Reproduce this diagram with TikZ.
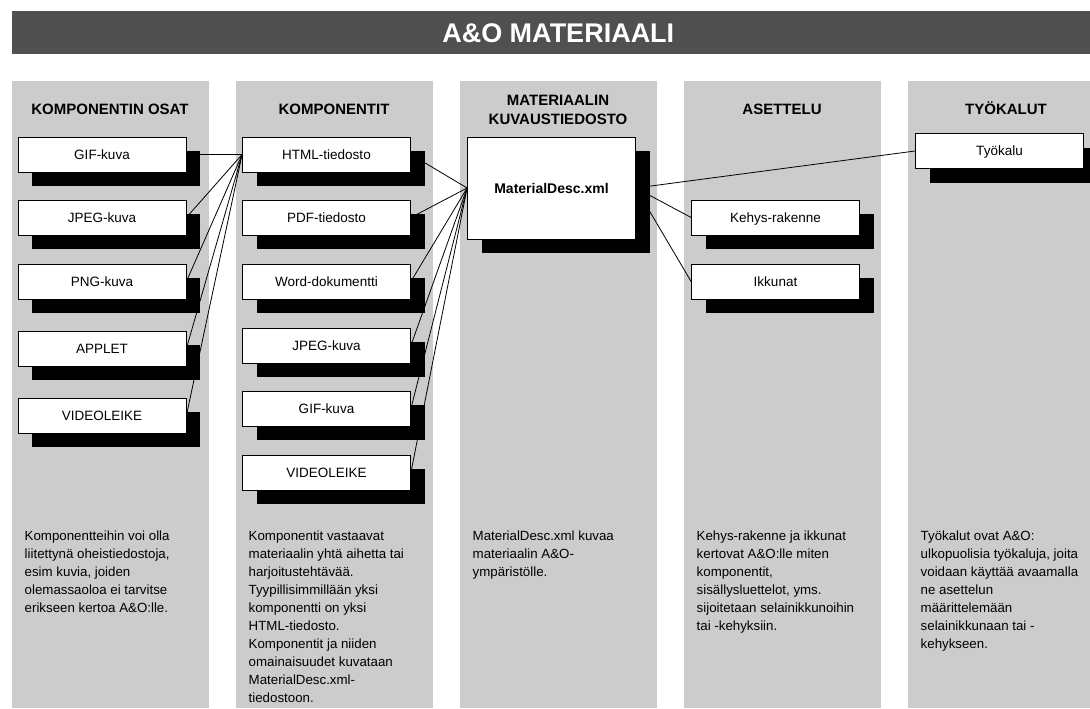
\documentclass[tikz,border=0pt]{standalone}
\usepackage{fontspec}
\setmainfont{Liberation Sans}
\usetikzlibrary{shadows,positioning}

\definecolor{bargray}{HTML}{505050}
\definecolor{colgray}{HTML}{CCCCCC}

\begin{document}
\begin{tikzpicture}[
    x=1pt, y=-1pt,
    column/.style={rectangle, fill=colgray, anchor=north west, inner sep=0pt, minimum width=197pt, minimum height=627pt},
    header/.style={align=center, font=\fontsize{15}{19}\selectfont\bfseries},
    part/.style={rectangle, draw, fill=white, line width=0.8pt, minimum width=168pt, minimum height=35pt, inner sep=0pt,
        text height=9.7pt, text depth=0pt, font=\fontsize{13.5}{16}\selectfont,
        drop shadow={shadow xshift=14pt, shadow yshift=-14pt, fill=black, opacity=1}},
    note/.style={anchor=north west, align=left, inner sep=0pt, font=\fontsize{13.3}{18}\selectfont},
    link/.style={line width=0.8pt}
]
\useasboundingbox (0,0) rectangle (1090,709);

% Title bar
\node[fill=bargray, text=white, minimum width=1093.5pt, minimum height=43pt, inner sep=0pt,
      text height=19.3pt, text depth=0pt,
      font=\fontsize{27}{30}\selectfont\bfseries] (title) at (558.25,32.5) {A\&O MATERIAALI};

% Columns
\node[column] (osat) at (11.5,81) {};
\node[column] (komp) at (235.5,81) {};
\node[column] (kuvaus) at (459.5,81) {};
\node[column] (asettelu) at (683.5,81) {};
\node[column] (tyokalut) at (907.5,81) {};

% Column headers
\node[header, anchor=base] (osathead) at (110,114.5) {KOMPONENTIN OSAT};
\node[header, anchor=base] (komphead) at (334,114.5) {KOMPONENTIT};
\node[header] (kuvaushead) at (558,109.5) {MATERIAALIN\\KUVAUSTIEDOSTO};
\node[header, anchor=base] (asettiluhead) at (782,114.5) {ASETTELU};
\node[header, anchor=base] (tyokaluthead) at (1006,114.5) {TYÖKALUT};

% Component parts
\node[part] (gif1) at (102,154.5) {GIF-kuva};
\node[part] (jpeg1) at (102,217.5) {JPEG-kuva};
\node[part] (png1) at (102,281.5) {PNG-kuva};
\node[part] (applet1) at (102,348.5) {APPLET};
\node[part] (video1) at (102,415.5) {VIDEOLEIKE};

% Components
\node[part] (html2) at (326.5,154.5) {HTML-tiedosto};
\node[part] (pdf2) at (326.5,217.5) {PDF-tiedosto};
\node[part] (word2) at (326.5,281.5) {Word-dokumentti};
\node[part] (jpeg2) at (326.5,345.5) {JPEG-kuva};
\node[part] (gif2) at (326.5,408.5) {GIF-kuva};
\node[part] (video2) at (326.5,472.5) {VIDEOLEIKE};

% Description file
\node[part, minimum height=102pt, text height=10pt, font=\fontsize{14}{16}\selectfont\bfseries] (matdesc) at (551.5,188) {MaterialDesc.xml};

% Layout
\node[part] (kehys) at (775.5,217.5) {Kehys-rakenne};
\node[part] (ikkunat) at (775.5,281.5) {Ikkunat};

% Tools
\node[part] (tyokalu) at (999.5,151) {Työkalu};

% Lines from parts to the HTML file
\draw[link] (gif1.east) -- (html2.west);
\draw[link] (jpeg1.east) -- (html2.west);
\draw[link] (png1.east) -- (html2.west);
\draw[link] (applet1.east) -- (html2.west);
\draw[link] (video1.east) -- (html2.west);

% Lines from components to MaterialDesc.xml
\draw[link] (html2.east) -- (matdesc.west);
\draw[link] (pdf2.east) -- (matdesc.west);
\draw[link] (word2.east) -- (matdesc.west);
\draw[link] (jpeg2.east) -- (matdesc.west);
\draw[link] (gif2.east) -- (matdesc.west);
\draw[link] (video2.east) -- (matdesc.west);

% Lines to layout and tools
\draw[link] (matdesc.east) -- (tyokalu.west);
\draw[link] (matdesc.east) -- (kehys.west);
\draw[link] (matdesc.east) -- (ikkunat.west);

% Descriptions
\node[note] (osatnote) at (24.5,531) {Komponentteihin voi olla\\liitettynä oheistiedostoja,\\esim kuvia, joiden\\olemassaoloa ei tarvitse\\erikseen kertoa A\&O:lle.};
\node[note] (kompnote) at (248.5,531) {Komponentit vastaavat\\materiaalin yhtä aihetta tai\\harjoitustehtävää.\\Tyypillisimmillään yksi\\komponentti on yksi\\HTML-tiedosto.\\Komponentit ja niiden\\omainaisuudet kuvataan\\MaterialDesc.xml-\\tiedostoon.};
\node[note] (kuvausnote) at (472.5,531) {MaterialDesc.xml kuvaa\\materiaalin A\&O-\\ympäristölle.};
\node[note] (asettelunote) at (696.5,531) {Kehys-rakenne ja ikkunat\\kertovat A\&O:lle miten\\komponentit,\\sisällysluettelot, yms.\\sijoitetaan selainikkunoihin\\tai -kehyksiin.};
\node[note] (tyokalutnote) at (920.5,531) {Työkalut ovat A\&O:\\ulkopuolisia työkaluja, joita\\voidaan käyttää avaamalla\\ne asettelun\\määrittelemään\\selainikkunaan tai -\\kehykseen.};

\end{tikzpicture}
\end{document}
